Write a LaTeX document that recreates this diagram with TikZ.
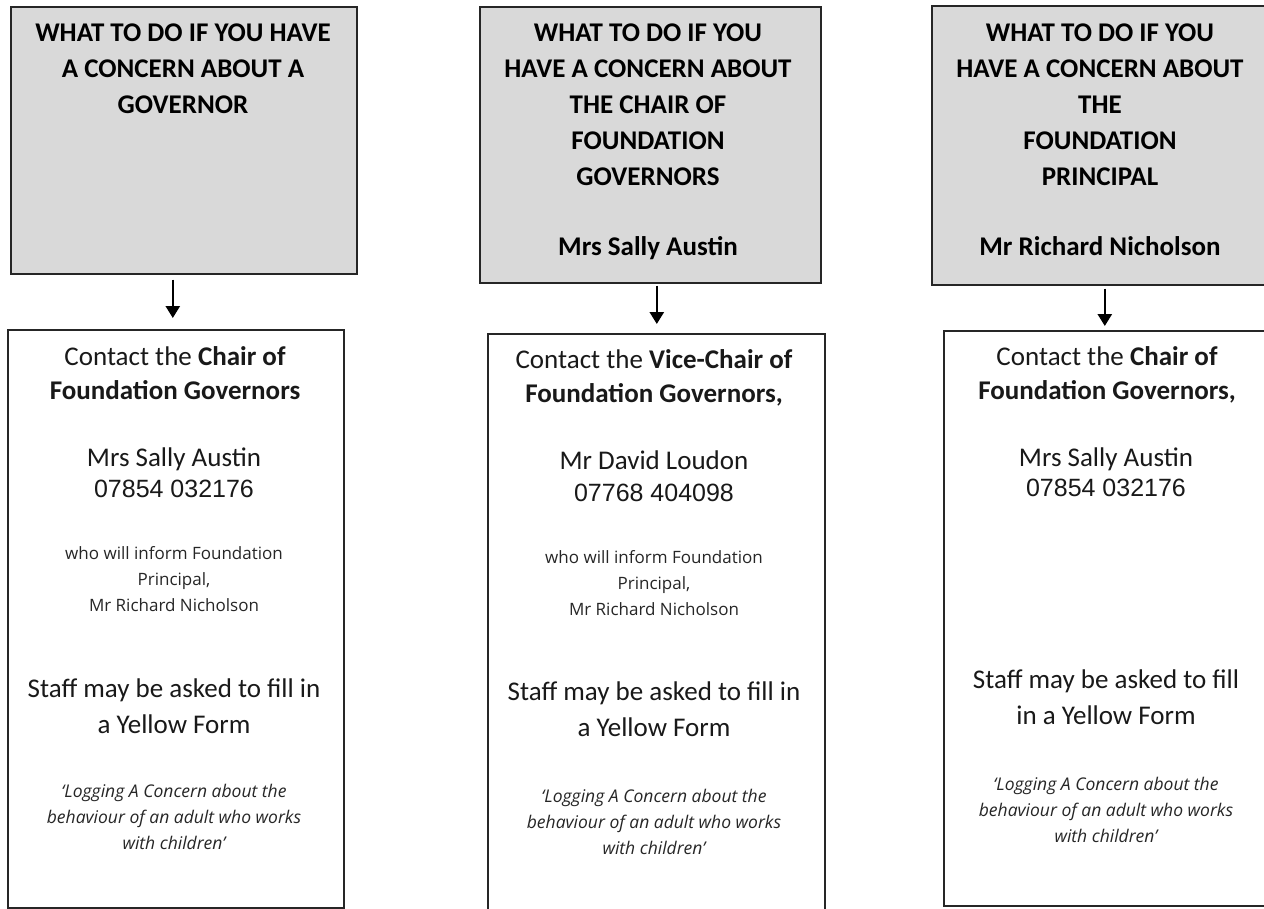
\documentclass[tikz,border=0pt]{standalone}
\usepackage{fontspec}
\setmainfont{Carlito}
\newfontfamily\phonefont{Liberation Sans}
\newfontfamily\smallfont{Open Sans}
\usetikzlibrary{arrows.meta}
\newcommand{\firstln}{\rule{0pt}{22pt}}
\begin{document}
\begin{tikzpicture}[x=1pt,y=-1pt,
  greybox/.style={draw=black!85,line width=1.6pt,fill=black!15,rectangle,inner sep=0,anchor=north west},
  whitebox/.style={draw=black!85,line width=1.6pt,fill=white,rectangle,inner sep=0,anchor=north west},
  head/.style={font={\fontsize{27}{36}\selectfont\bfseries},align=center,anchor=north,inner sep=0},
  maintxt/.style={font={\fontsize{27}{34}\selectfont},align=center,anchor=north,inner sep=0,text=black!90},
  nametxt/.style={font={\fontsize{27}{34}\selectfont},anchor=base,inner sep=0,text=black!90},
  phonetxt/.style={font={\phonefont\fontsize{25}{30}\selectfont},anchor=base,inner sep=0,text=black!90},
  smalltxt/.style={font={\smallfont\fontsize{17}{26}\selectfont},align=center,anchor=north,inner sep=0,text=black!85},
  staffinfo/.style={font={\fontsize{27}{36}\selectfont},align=center,anchor=north,inner sep=0,text=black!90},
  itxt/.style={font={\smallfont\itshape\fontsize{17.5}{26}\selectfont},align=center,anchor=north,inner sep=0,text=black!85},
  arr/.style={line width=2.6pt,-{Triangle[length=12pt,width=14pt]}}]
\path[use as bounding box,clip] (0,0) rectangle (1264,908);

% grey boxes
\node[greybox,minimum width=346pt,minimum height=267pt] (g1) at (10,6) {};
\node[greybox,minimum width=341pt,minimum height=276pt] (g2) at (479,6) {};
\node[greybox,minimum width=339pt,minimum height=279pt] (g3) at (931,5) {};

% white boxes
\node[whitebox,minimum width=336pt,minimum height=578pt] (w1) at (7,329) {};
\node[whitebox,minimum width=337pt,minimum height=590pt] (w2) at (487,333) {};
\node[whitebox,minimum width=327pt,minimum height=575pt] (w3) at (943,330) {};

% headings
\node[head] (h1) at (183,19) {\firstln WHAT TO DO IF YOU HAVE\\A CONCERN ABOUT A\\GOVERNOR};
\node[head] (h2) at (648,19) {\firstln WHAT TO DO IF YOU\\HAVE A CONCERN ABOUT\\THE CHAIR OF\\FOUNDATION\\GOVERNORS\\[34pt]Mrs Sally Austin};
\node[head] (h3) at (1100,19) {\firstln WHAT TO DO IF YOU\\HAVE A CONCERN ABOUT\\THE\\FOUNDATION\\PRINCIPAL\\[34pt]Mr Richard Nicholson};

% column 1
\node[maintxt] (c1) at (175,343) {\firstln Contact the \textbf{Chair of}\\\textbf{Foundation Governors}};
\node[nametxt] (n1) at (174,466) {Mrs Sally Austin};
\node[phonetxt] (p1) at (174,497) {07854 032176};
\node[smalltxt] (s1) at (174,537) {\firstln who will inform Foundation\\Principal,\\Mr Richard Nicholson};
\node[staffinfo] (f1) at (174,675) {\firstln Staff may be asked to fill in\\a Yellow Form};
\node[itxt] (i1) at (174,775) {\firstln ‘Logging A Concern about the\\behaviour of an adult who works\\with children’};

% column 2
\node[maintxt] (c2) at (654,346) {\firstln Contact the \textbf{Vice-Chair of}\\\textbf{Foundation Governors,}};
\node[nametxt] (n2) at (654,469) {Mr David Loudon};
\node[phonetxt] (p2) at (654,501) {07768 404098};
\node[smalltxt] (s2) at (654,541) {\firstln who will inform Foundation\\Principal,\\Mr Richard Nicholson};
\node[staffinfo] (f2) at (654,678) {\firstln Staff may be asked to fill in\\a Yellow Form};
\node[itxt] (i2) at (654,780) {\firstln ‘Logging A Concern about the\\behaviour of an adult who works\\with children’};

% column 3
\node[maintxt] (c3) at (1107,343) {\firstln Contact the \textbf{Chair of}\\\textbf{Foundation Governors,}};
\node[nametxt] (n3) at (1106,466) {Mrs Sally Austin};
\node[phonetxt] (p3) at (1106,496) {07854 032176};
\node[staffinfo] (f3) at (1106,666) {\firstln Staff may be asked to fill\\in a Yellow Form};
\node[itxt] (i3) at (1106,768) {\firstln ‘Logging A Concern about the\\behaviour of an adult who works\\with children’};

% arrows
\draw[arr] ([xshift=-11pt,yshift=-5pt]g1.south) -- ([xshift=-3pt,yshift=11pt]w1.north);
\draw[arr] ([xshift=6.5pt,yshift=-2pt]g2.south) -- ([xshift=0.5pt,yshift=9pt]w2.north);
\draw[arr] ([xshift=3.5pt,yshift=-3pt]g3.south) -- ([xshift=-2.5pt,yshift=4pt]w3.north);
\end{tikzpicture}
\end{document}
